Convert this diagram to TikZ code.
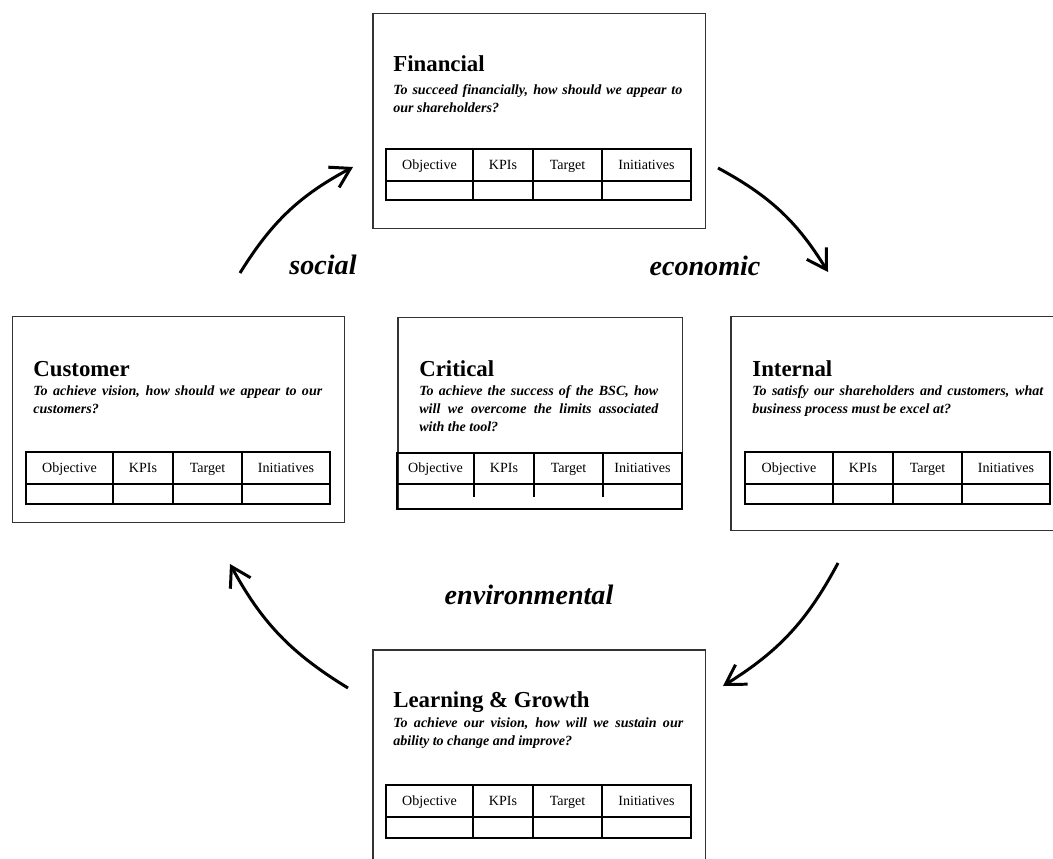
\documentclass[tikz,border=0pt]{standalone}
\usepackage{fontspec}
\setmainfont{Liberation Serif}
\usetikzlibrary{arrows.meta}
\tikzset{
	frame/.style={draw=black!80, line width=0.85pt, inner sep=0pt, anchor=north west},
	grid/.style={draw=black, line width=0.9pt},
	head/.style={font=\fontsize{13}{15}\selectfont\bfseries, anchor=base west, inner sep=0pt},
	quest/.style={font=\fontsize{8}{10.2}\selectfont\bfseries\itshape, anchor=north west, inner sep=0pt, align=justify},
	cell/.style={font=\fontsize{8}{9}\selectfont, inner sep=0pt, text height=5.6pt, text depth=1.7pt},
	pillar/.style={font=\fontsize{16}{18}\selectfont\bfseries\itshape, inner sep=0pt},
	turn/.style={line width=1.7pt, -{Straight Barb[length=0.38cm, width=0.46cm]}, bend left=15}
}
% name, left, top, first column, width, head row, body row, divider depth
\newcommand{\kpitable}[8]{
	\draw[grid] (#2, #3) rectangle ({#2+#5}, {#3+#6+#7});
	\draw[grid] (#2, {#3+#6}) -- ({#2+#5}, {#3+#6});
	\foreach \dx in {#4, #4+60, #4+129} \draw[grid] ({#2+\dx}, #3) -- ({#2+\dx}, {#3+#6+#8});
	\node[cell] (#1-obj) at ({#2+#4/2}, {#3+#6/2+1}) {Objective};
	\node[cell] (#1-kpi) at ({#2+#4+30}, {#3+#6/2+1}) {KPIs};
	\node[cell] (#1-tgt) at ({#2+#4+94.5}, {#3+#6/2+1}) {Target};
	\node[cell] (#1-ini) at ({#2+(#4+129+#5)/2}, {#3+#6/2+1}) {Initiatives};
}

\begin{document}
\begin{tikzpicture}[x=0.02cm, y=-0.02cm]
		%%%%% START %%%%%
		\useasboundingbox (0, 0) rectangle (1053, 858);
		
		% financial
		\node[frame, minimum width=6.66cm, minimum height=4.3cm] (fin) at (372, 13) {};
		\node[head] (fin-title) at (393, 72) {Financial};
		\node[quest, text width=5.78cm] (fin-q) at (393, 84) {To succeed financially, how should we appear to\linebreak our shareholders?};
		\kpitable{fin}{386}{149}{87}{305}{32}{19}{19}
		
		% customer
		\node[frame, minimum width=6.64cm, minimum height=4.12cm] (cust) at (12, 316) {};
		\node[head] (cust-title) at (33, 376) {Customer};
		\node[quest, text width=5.78cm] (cust-q) at (33, 385) {To achieve vision, how should we appear to our\linebreak customers?};
		\kpitable{cust}{26}{452}{87}{304}{32}{20}{20}
		
		% critical
		\node[frame, minimum width=5.7cm, minimum height=3.84cm] (crit) at (397, 317) {};
		\node[head] (crit-title) at (419, 376) {Critical};
		\node[quest, text width=4.78cm] (crit-q) at (419, 385) {To achieve the success of the BSC, how\linebreak will we overcome the limits associated\linebreak with the tool?};
		\kpitable{crit}{397}{453}{77}{285}{31}{25}{13}
		
		% internal
		\node[frame, minimum width=6.68cm, minimum height=4.28cm] (int) at (730, 316) {};
		\node[head] (int-title) at (752, 376) {Internal};
		\node[quest, text width=5.82cm] (int-q) at (752, 385) {To satisfy our shareholders and customers, what\linebreak business process must be excel at?};
		\kpitable{int}{745}{452}{88}{305}{32}{20}{20}
		
		% learning
		\node[frame, minimum width=6.66cm, minimum height=4.34cm] (learn) at (372, 649) {};
		\node[head] (learn-title) at (393, 707) {Learning \& Growth};
		\node[quest, text width=5.8cm] (learn-q) at (393, 717) {To achieve our vision, how will we sustain our\linebreak ability to change and improve?};
		\kpitable{learn}{386}{785}{87}{305}{32}{21}{21}
		
		% cycle
		\coordinate (soc-a) at (240, 273);
		\coordinate (soc-b) at (353, 167);
		\coordinate (eco-a) at (718, 168);
		\coordinate (eco-b) at (828, 272);
		\coordinate (dn-a) at (838, 563);
		\coordinate (dn-b) at (723, 686);
		\coordinate (env-a) at (348, 688);
		\coordinate (env-b) at (230, 564);
		\draw[turn] (soc-a) to (soc-b);
		\draw[turn] (eco-a) to (eco-b);
		\draw[turn] (dn-a) to (dn-b);
		\draw[turn] (env-a) to (env-b);
		
		\node[pillar] (social) at (323, 265) {social};
		\node[pillar] (economic) at (705, 266) {economic};
		\node[pillar] (environmental) at (529, 595) {environmental};
		
		%%%%% END %%%%%
	\end{tikzpicture}
\end{document}
